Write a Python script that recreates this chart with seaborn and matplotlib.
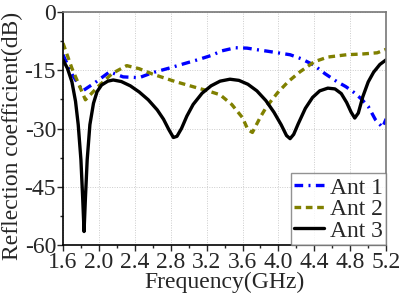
import pandas as pd
import matplotlib
matplotlib.use("Agg")
import matplotlib.pyplot as plt
import seaborn as sns
from matplotlib.ticker import MultipleLocator, FormatStrFormatter

# Pontos (GHz, dB)
f1 = [1.6, 1.7, 1.82, 1.95, 2.12, 2.27, 2.45, 2.6, 2.79, 2.95, 3.1, 3.25, 3.37, 3.52, 3.65, 3.76,
      3.88, 3.99, 4.13, 4.25, 4.32, 4.39, 4.52, 4.65, 4.75, 4.83, 4.92, 5.0, 5.08, 5.16, 5.2]
s1 = [-11.0, -16.0, -20.3, -18.3, -15.4, -16.7, -16.9, -15.6, -14.4, -13.3, -12.3, -11.2, -10.0, -9.2,
      -9.3, -9.7, -10.1, -10.5, -11.0, -12.0, -12.8, -13.6, -15.9, -17.9, -19.2, -20.5, -22.3, -24.3,
      -27.7, -29.7, -27.5]

f2 = [1.6, 1.7, 1.85, 2.0, 2.15, 2.31, 2.45, 2.6, 2.85, 3.09, 3.2, 3.35, 3.48, 3.6, 3.66, 3.71,
      3.8, 3.87, 3.99, 4.11, 4.24, 4.4, 4.55, 4.76, 4.94, 5.1, 5.2]
s2 = [-8.0, -14.5, -22.6, -19.0, -15.8, -13.8, -14.6, -16.0, -17.9, -19.5, -20.2, -21.3, -23.8, -27.2,
      -30.3, -31.0, -27.0, -24.3, -20.8, -17.9, -15.4, -12.8, -11.6, -11.0, -10.8, -10.5, -9.6]

f3 = [1.6, 1.65, 1.7, 1.74, 1.77, 1.80, 1.82, 1.835, 1.85, 1.87, 1.90, 1.94, 1.98, 2.03, 2.1, 2.16,
      2.25, 2.35, 2.45, 2.55, 2.65, 2.72, 2.78, 2.83, 2.87, 2.92, 2.98, 3.05, 3.15, 3.25, 3.35, 3.46,
      3.56, 3.66, 3.76, 3.86, 3.95, 4.03, 4.09, 4.13, 4.17, 4.22, 4.3, 4.38, 4.46, 4.55, 4.63, 4.7,
      4.76, 4.81, 4.85, 4.89, 4.94, 5.0, 5.06, 5.13, 5.2]
s3 = [-12.3, -14.5, -18.0, -23.0, -29.0, -38.0, -48.0, -56.5, -48.0, -38.0, -29.0, -23.5, -20.5, -18.8,
      -17.8, -17.5, -17.9, -19.0, -20.6, -22.6, -25.2, -27.6, -30.3, -32.3, -32.0, -30.0, -26.8, -23.8,
      -20.9, -19.0, -17.8, -17.3, -17.6, -18.6, -20.3, -22.8, -25.8, -29.0, -31.8, -32.6, -31.5, -28.8,
      -24.8, -22.0, -20.3, -19.6, -19.8, -21.0, -23.3, -25.8, -27.3, -26.0, -21.8, -18.0, -15.5, -13.5,
      -12.3]

names = ["Ant 1", "Ant 2", "Ant 3"]
colors = ["#0000ff", "#808000", "#000000"]

df = pd.concat([
    pd.DataFrame({"Frequency": f1, "dB": s1, "Antenna": names[0]}),
    pd.DataFrame({"Frequency": f2, "dB": s2, "Antenna": names[1]}),
    pd.DataFrame({"Frequency": f3, "dB": s3, "Antenna": names[2]}),
])

sns.set_style("whitegrid")
plt.rcParams["font.family"] = ["Liberation Serif", "DejaVu Serif"]
plt.rcParams["axes.unicode_minus"] = False
fs = 17

fig, ax = plt.subplots(figsize=(4.01, 3.0), dpi=100)

styles = {"Ant 1": (0, (2.6, 1.6, 0.6, 1.6)), "Ant 2": (0, (2.0, 1.4)), "Ant 3": "-"}
for name, color in zip(names, colors):
    sub = df[df["Antenna"] == name]
    sns.lineplot(data=sub, x="Frequency", y="dB", ax=ax, color=color, linestyle=styles[name],
                 linewidth=2.4, label=name, sort=False, estimator=None)

ax.set_xlim(1.6, 5.2)
ax.set_ylim(-60, 0)
ax.xaxis.set_major_locator(MultipleLocator(0.4))
ax.xaxis.set_minor_locator(MultipleLocator(0.2))
ax.yaxis.set_major_locator(MultipleLocator(15))
ax.yaxis.set_minor_locator(MultipleLocator(7.5))
ax.xaxis.set_major_formatter(FormatStrFormatter("%.1f"))
ax.grid(True, which="major", color="#cccccc", linestyle=(0, (1, 1.5)), linewidth=0.7)
ax.tick_params(which="both", direction="out", bottom=True, left=True, labelsize=fs, pad=1)
ax.tick_params(which="major", length=4, width=1)
ax.tick_params(which="minor", length=2.5, width=1)
for s in ["left", "bottom"]:
    ax.spines[s].set_color("black")
    ax.spines[s].set_linewidth(1.2)
for s in ["top", "right"]:
    ax.spines[s].set_color("#777777")
    ax.spines[s].set_linewidth(1.2)

ax.set_xlabel("Frequency(GHz)", fontsize=fs, labelpad=-1)
ax.set_ylabel("Reflection coefficient(dB)", fontsize=fs)
ax.yaxis.set_label_coords(-0.125, 0.47)

leg = ax.legend(loc="lower right", fontsize=fs, frameon=True, fancybox=False, borderaxespad=0,
                handlelength=1.25, handletextpad=0.25, labelspacing=0.0, borderpad=0.15)
leg.get_frame().set_edgecolor("#777777")
leg.get_frame().set_linewidth(1.0)

fig.subplots_adjust(left=0.157, right=0.963, top=0.96, bottom=0.183)
fig.savefig("out.png", dpi=100)
